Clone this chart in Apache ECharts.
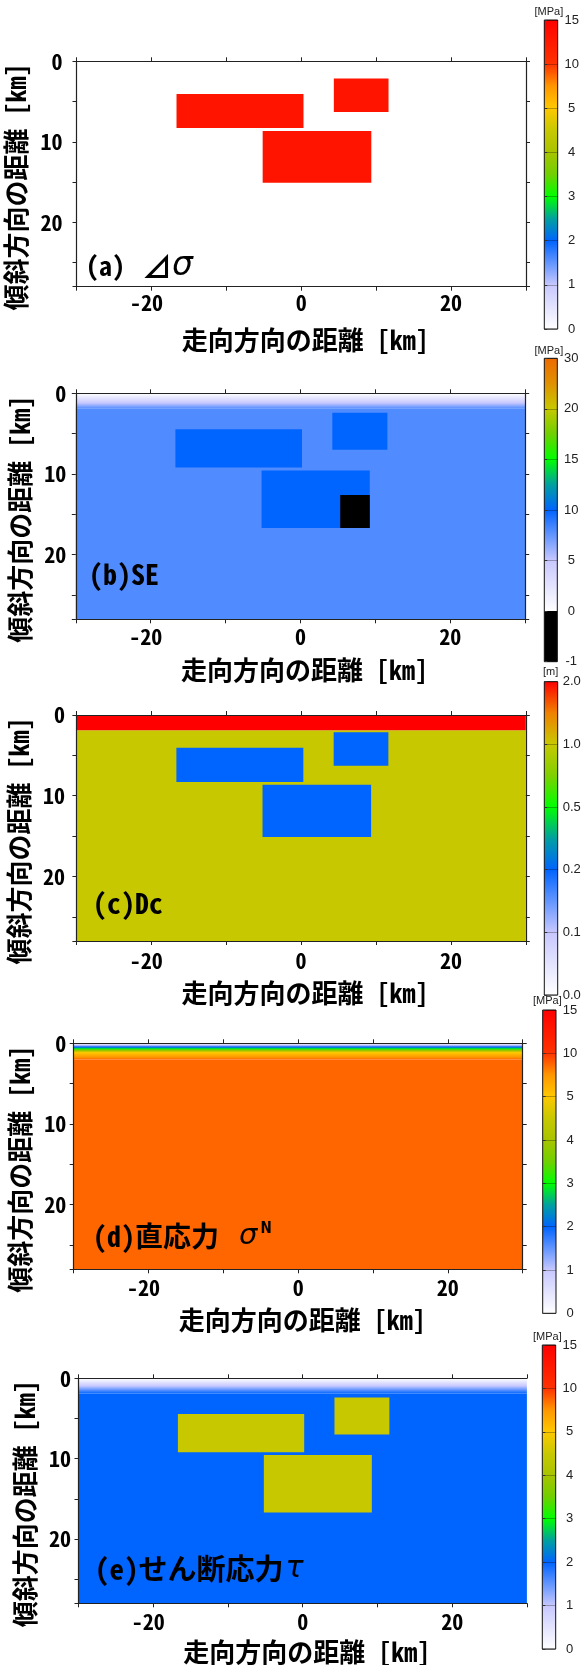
<!DOCTYPE html>
<html><head><meta charset="utf-8">
<script src="https://cdn.jsdelivr.net/npm/echarts@6/dist/echarts.min.js"></script>
<style>html,body{margin:0;padding:0;background:#fff}#c{width:581px;height:1665px}</style>
</head><body><div id="c"></div>
<script>
// ================= DATA =================
const xExtent = [-30, 30];            // 走向方向の距離 [km]
const yExtent = [0, 28];              // 傾斜方向の距離 [km]
const xTickLabels = [-20, 0, 20];
const yTickLabels = [0, 10, 20];

// colour-bar tick values (evenly spaced along each bar)
const stressTicks = [0, 1, 2, 3, 4, 5, 10, 15];        // MPa  (a)(d)(e)
const seTicks     = [-1, 0, 5, 10, 15, 20, 30];        // MPa  (b)
const dcTicks     = [0.0, 0.1, 0.2, 0.5, 1.0, 2.0];    // m    (c)
const stressTickLabels = ['0', '1', '2', '3', '4', '5', '10', '15'];
const seTickLabels     = ['-1', '0', '5', '10', '15', '20', '30'];
const dcTickLabels     = ['0.0', '0.1', '0.2', '0.5', '1.0', '2.0'];

// fault cells: [x0, x1, y0, y1, value at top, value at bottom]
const stressDropCells = [            // (a) ⊿σ [MPa]
  [-30, 30, 0, 28, 0, 0],
  [-16.65, 0.3, 4.05, 8.3, 13, 13],
  [4.35, 11.65, 2.15, 6.3, 13, 13],
  [-5.15, 9.35, 8.65, 15.1, 13, 13]
];
const strengthExcessCells = [        // (b) SE [MPa]
  [-30, 30, 1.9, 28, 8, 8],
  [-30, 30, 0, 1.9, 0, 8],
  [-16.7, 0.2, 4.45, 9.2, 10, 10],
  [4.25, 11.6, 2.4, 7.0, 10, 10],
  [-5.2, 9.25, 9.55, 16.7, 10, 10],
  [5.3, 9.25, 12.6, 16.7, -0.5, -0.5]
];
const dcCells = [                    // (c) Dc [m]
  [-30, 30, 1.9, 28, 1.0, 1.0],
  [-30, 30, 0, 1.9, 2.0, 2.0],
  [-16.65, 0.3, 4.05, 8.3, 0.2, 0.2],
  [4.35, 11.65, 2.15, 6.3, 0.2, 0.2],
  [-5.15, 9.35, 8.65, 15.1, 0.2, 0.2]
];
const normalStressCells = [          // (d) σN [MPa]
  [-30, 30, 2.0, 28, 8.7, 8.7],
  [-30, 30, 0, 2.0, 0, 8.7]
];
const shearStressCells = [           // (e) τ [MPa]
  [-30, 30, 1.9, 28, 2, 2],
  [-30, 30, 0, 1.9, 0, 2],
  [-16.7, 0.2, 4.45, 9.2, 4.5, 4.5],
  [4.25, 11.6, 2.4, 7.0, 4.5, 4.5],
  [-5.2, 9.25, 9.55, 16.7, 4.5, 4.5]
];

// ================= STYLE (palettes: [bar position, colour]) =================
const stressPalette = [[0,'#ffffff'],[1,'#c8c8ff'],[2,'#0064ff'],[2.5,'#00a0a0'],[3,'#00ff00'],[3.5,'#70d000'],[4,'#a8c400'],[4.5,'#c8c800'],[5,'#ffc800'],[5.5,'#ff9600'],[6,'#ff3200'],[7,'#ff0000']];
const sePalette     = [[0,'#000000'],[1,'#000000'],[1,'#ffffff'],[2,'#c8c8ff'],[3,'#0064ff'],[3.5,'#00a0a0'],[4,'#00ff00'],[4.5,'#70d000'],[5,'#c8c800'],[5.5,'#e09000'],[6,'#ee6a00']];
const dcPalette     = [[0,'#ffffff'],[1,'#c8c8ff'],[2,'#0064ff'],[2.5,'#00a0a0'],[3,'#00ff00'],[3.5,'#80d000'],[4,'#c8c800'],[4.5,'#f08000'],[5,'#ff0000']];

const JP = "'Noto Sans Mono CJK JP', 'Noto Sans CJK JP', sans-serif";
const LAT = "'Liberation Sans', Arial, sans-serif";
const GREEK = "'DejaVu Sans', sans-serif";

function valueToIndex(v, ticks) {
  const n = ticks.length - 1;
  if (v <= ticks[0]) return 0;
  if (v >= ticks[n]) return n;
  for (let i = 0; i < n; i++) {
    if (v >= ticks[i] && v <= ticks[i + 1]) return i + (v - ticks[i]) / (ticks[i + 1] - ticks[i]);
  }
  return n;
}
function hex2rgb(h) { h = h.replace('#', ''); return [0, 2, 4].map(i => parseInt(h.substr(i, 2), 16)); }
function indexToColor(idx, pal) {
  let j = 0;
  for (let k = 0; k < pal.length - 1; k++) if (pal[k][0] <= idx) j = k;
  const a = pal[j], b = pal[j + 1];
  const t = b[0] === a[0] ? 0 : Math.min(1, Math.max(0, (idx - a[0]) / (b[0] - a[0])));
  const ca = hex2rgb(a[1]), cb = hex2rgb(b[1]);
  const c = ca.map((x, i) => Math.round(x + (cb[i] - x) * t));
  return 'rgb(' + c.join(',') + ')';
}
function colorOf(v, ticks, pal) { return indexToColor(valueToIndex(v, ticks), pal); }

function cellRenderer(ticks, pal) {
  return function (params, api) {
    const x0 = api.value(0), x1 = api.value(1), y0 = api.value(2), y1 = api.value(3);
    const vt = api.value(4), vb = api.value(5);
    const p0 = api.coord([x0, y0]), p1 = api.coord([x1, y1]);
    const shape = { x: Math.min(p0[0], p1[0]), y: Math.min(p0[1], p1[1]),
                    width: Math.abs(p1[0] - p0[0]), height: Math.abs(p1[1] - p0[1]) };
    let fill;
    if (vt === vb) fill = colorOf(vt, ticks, pal);
    else {
      const stops = [];
      const N = 40;
      for (let i = 0; i <= N; i++) {
        const v = vt + (vb - vt) * i / N;
        stops.push({ offset: i / N, color: colorOf(v, ticks, pal) });
      }
      fill = new echarts.graphic.LinearGradient(0, 0, 0, 1, stops);
    }
    return { type: 'rect', shape: shape, style: { fill: fill } };
  };
}
function barRenderer(ticks, pal) {
  const n = ticks.length - 1;
  return function (params, api) {
    const p0 = api.coord([0, 0]), p1 = api.coord([1, n]);
    const stops = pal.slice().reverse().map(s => ({ offset: 1 - s[0] / n, color: s[1] }));
    return { type: 'rect',
      shape: { x: Math.min(p0[0], p1[0]), y: Math.min(p0[1], p1[1]), width: Math.abs(p1[0] - p0[0]), height: Math.abs(p1[1] - p0[1]) },
      style: { fill: new echarts.graphic.LinearGradient(0, 0, 0, 1, stops), stroke: '#111', lineWidth: 1 } };
  };
}

// ================= LAYOUT =================
const panels = [
  { cells: stressDropCells, ticks: stressTicks, labels: stressTickLabels, pal: stressPalette, unit: '[MPa]',
    grid: { left: 76.5, top: 61.3, width: 449.5, height: 225.4 }, bar: { left: 544.3, top: 20, width: 13.4, height: 309 },
    unitPos: [534.5, 6],
    yGap: 40, yMargin: 14, xGap: 40, xMargin: 5, rightFrame: true,
    title: { left: 86, top: 250, text: '{p|(a)}{g|⊿}{s|σ}',
      rich: { p: { fontSize: 26 }, g: { fontSize: 30, padding: [0, 0, 0, 17] }, s: { fontFamily: GREEK, fontStyle: 'italic', fontWeight: 'normal', fontSize: 33 } } } },
  { cells: strengthExcessCells, ticks: seTicks, labels: seTickLabels, pal: sePalette, unit: '[MPa]',
    grid: { left: 75.8, top: 393.3, width: 449.4, height: 226 }, bar: { left: 544.3, top: 358.3, width: 13, height: 303.4 },
    unitPos: [534.5, 345],
    yGap: 39, yMargin: 9.5, xGap: 37.4, xMargin: 6, rightFrame: true,
    title: { left: 89, top: 560, text: '{p|(b)SE}', rich: { p: { fontSize: 28 } } } },
  { cells: dcCells, ticks: dcTicks, labels: dcTickLabels, pal: dcPalette, unit: '[m]',
    grid: { left: 76.4, top: 715, width: 449.4, height: 226 }, bar: { left: 544.3, top: 681.7, width: 13.4, height: 313.3 },
    unitPos: [543, 666],
    yGap: 39, yMargin: 11.5, xGap: 39.4, xMargin: 9, rightFrame: true,
    title: { left: 93, top: 889, text: '{p|(c)Dc}', rich: { p: { fontSize: 28 } } } },
  { cells: normalStressCells, ticks: stressTicks, labels: stressTickLabels, pal: stressPalette, unit: '[MPa]',
    grid: { left: 73.7, top: 1043.3, width: 449, height: 226 }, bar: { left: 542.7, top: 1010, width: 13.3, height: 303.3 },
    unitPos: [533, 995],
    yGap: 36.5, yMargin: 7.5, xGap: 37.7, xMargin: 7.5, rightFrame: true,
    title: { left: 93, top: 1222, text: '{p|(d)直応力 }{s|σ}{n|N}',
      rich: { p: { fontSize: 28 }, s: { fontFamily: GREEK, fontStyle: 'italic', fontWeight: 'normal', fontSize: 29, padding: [0, 0, 0, 6] },
              n: { fontFamily: "'Liberation Sans Narrow', 'DejaVu Sans Condensed', sans-serif", fontSize: 15, verticalAlign: 'top', padding: [0, 0, 10, 3] } } } },
  { cells: shearStressCells, ticks: stressTicks, labels: stressTickLabels, pal: stressPalette, unit: '[MPa]',
    grid: { left: 78.5, top: 1378.3, width: 448.4, height: 225 }, bar: { left: 542.3, top: 1345, width: 13.4, height: 304 },
    unitPos: [533, 1331],
    yGap: 39, yMargin: 7.5, xGap: 35.4, xMargin: 7, rightFrame: false,
    title: { left: 95, top: 1554, text: '{p|(e)せん断応力}{s|τ}',
      rich: { p: { fontSize: 29 }, s: { fontFamily: GREEK, fontStyle: 'italic', fontWeight: 'normal', fontSize: 30, padding: [0, 0, 0, 2] } } } }
];

const grids = [], xAxes = [], yAxes = [], series = [], titles = [];
const AX = '#222';

panels.forEach((p, k) => {
  grids.push(Object.assign({ containLabel: false, outerBoundsMode: 'none' }, p.grid));
  const gi = grids.length - 1;
  xAxes.push({ type: 'value', gridIndex: gi, position: 'bottom', min: xExtent[0], max: xExtent[1], interval: 10, z: 5,
    name: '{t|走向方向の距離 [km]}', nameLocation: 'middle', nameGap: p.xGap,
    nameTextStyle: { fontFamily: JP, fontWeight: 'bold', fontSize: 26, color: '#000',
      rich: { t: { fontFamily: JP, fontWeight: 'bold', fontSize: 26, color: '#000', padding: [0, 0, 0, 8] } } },
    axisLine: { show: true, onZero: false, lineStyle: { color: AX, width: 1.2 } },
    axisTick: { show: true, inside: false, length: 4, lineStyle: { color: AX, width: 1 } },
    splitLine: { show: false },
    axisLabel: { show: true, margin: p.xMargin, fontFamily: JP, fontWeight: 'bold', fontSize: 22, color: '#000',
      showMinLabel: true, showMaxLabel: true,
      formatter: v => xTickLabels.includes(v) ? (v < 0 ? '{m|' + String(v) + '}' : String(v)) : '',
      rich: { m: { fontFamily: JP, fontWeight: 'bold', fontSize: 22, color: '#000', padding: [0, 10, 0, 0] } } } });
  const xb = xAxes.length - 1;
  xAxes.push({ type: 'value', gridIndex: gi, position: 'top', min: xExtent[0], max: xExtent[1], interval: 10, z: 5,
    axisLine: { show: true, onZero: false, lineStyle: { color: AX, width: 1.2 } },
    axisTick: { show: true, inside: false, length: 4, lineStyle: { color: AX, width: 1 } },
    axisLabel: { show: false }, splitLine: { show: false } });
  yAxes.push({ type: 'value', gridIndex: gi, position: 'left', inverse: true, min: yExtent[0], max: yExtent[1], interval: 5, z: 5,
    name: '傾斜方向の距離 [km]　', nameLocation: 'middle', nameGap: p.yGap, nameRotate: 90,
    nameTextStyle: { fontFamily: JP, fontWeight: 'bold', fontSize: 26, color: '#000' },
    axisLine: { show: true, onZero: false, lineStyle: { color: AX, width: 1.2 } },
    axisTick: { show: true, inside: false, length: 4, lineStyle: { color: AX, width: 1 } },
    splitLine: { show: false },
    axisLabel: { show: true, margin: p.yMargin, fontFamily: JP, fontWeight: 'bold', fontSize: 22, color: '#000',
      formatter: v => yTickLabels.includes(v) ? String(v) : '' } });
  const yl = yAxes.length - 1;
  yAxes.push({ type: 'value', gridIndex: gi, position: 'right', inverse: true, min: yExtent[0], max: yExtent[1], interval: 5, z: 5,
    axisLine: { show: p.rightFrame, onZero: false, lineStyle: { color: AX, width: 1.2 } },
    axisTick: { show: p.rightFrame, inside: false, length: 4, lineStyle: { color: AX, width: 1 } },
    axisLabel: { show: false }, splitLine: { show: false } });

  series.push({ type: 'custom', xAxisIndex: xb, yAxisIndex: yl, clip: true, silent: true, z: 2,
    encode: { x: [0, 1], y: [2, 3] }, renderItem: cellRenderer(p.ticks, p.pal), data: p.cells });

  titles.push({ left: p.title.left, top: p.title.top, padding: 0, text: p.title.text,
    textStyle: { fontFamily: JP, fontWeight: 'bold', color: '#000', fontSize: 28, rich: Object.fromEntries(Object.entries(p.title.rich).map(([k2, s]) => [k2, Object.assign({ fontFamily: JP, fontWeight: 'bold', color: '#000' }, s)])) } });
  titles.push({ left: p.unitPos[0], top: p.unitPos[1], padding: 0, text: p.unit,
    textStyle: { fontFamily: LAT, fontWeight: 'normal', fontSize: 11, color: '#222' } });
});

panels.forEach((p, k) => {
  const n = p.ticks.length - 1;
  grids.push(Object.assign({ containLabel: false, outerBoundsMode: 'none' }, p.bar));
  const gi = grids.length - 1;
  xAxes.push({ type: 'value', gridIndex: gi, min: 0, max: 1, show: false });
  yAxes.push({ type: 'value', gridIndex: gi, position: 'right', min: 0, max: n, interval: 1, z: 5,
    axisLine: { show: false },
    axisTick: { show: true, inside: false, length: 3, lineStyle: { color: '#333', width: 1 } },
    splitLine: { show: true, lineStyle: { color: 'rgba(0,0,0,0.28)', width: 1 } },
    axisLabel: { show: true, margin: 14, align: 'center', fontFamily: LAT, fontSize: 13, color: '#222',
      formatter: v => p.labels[Math.round(v)] } });
  series.push({ type: 'custom', xAxisIndex: xAxes.length - 1, yAxisIndex: yAxes.length - 1, silent: true, z: 1,
    renderItem: barRenderer(p.ticks, p.pal), data: [[0]] });
});

const chart = echarts.init(document.getElementById('c'), null, { renderer: 'canvas', width: 581, height: 1665 });
chart.setOption({
  animation: false,
  backgroundColor: '#fff',
  title: titles,
  grid: grids,
  xAxis: xAxes,
  yAxis: yAxes,
  series: series
});
</script>
</body></html>
